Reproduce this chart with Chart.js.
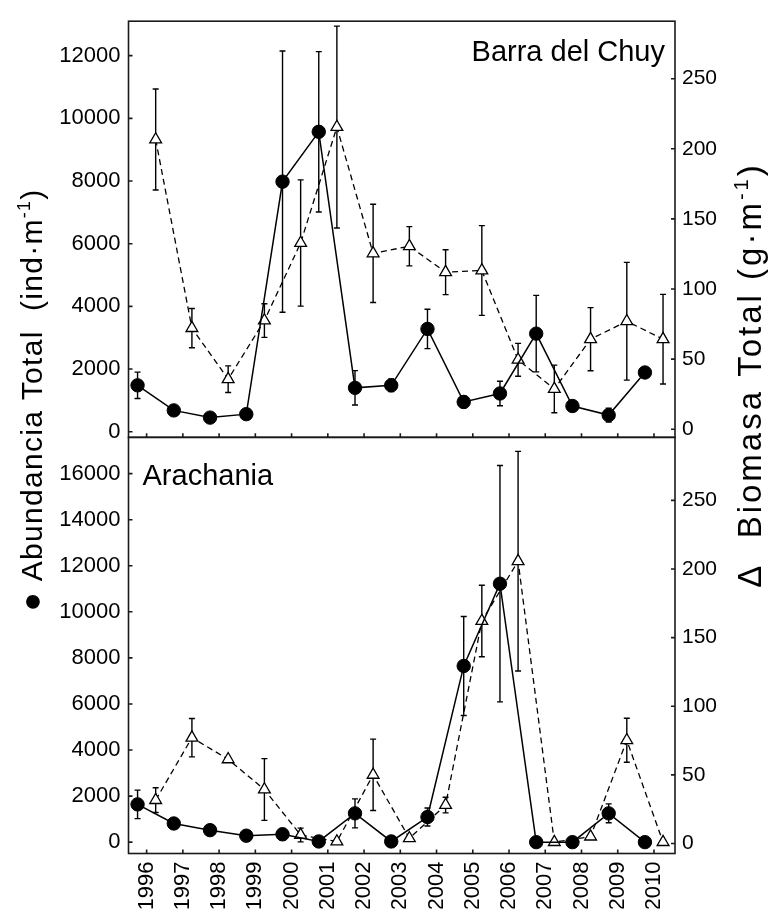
<!DOCTYPE html>
<html><head><meta charset="utf-8">
<script src="https://cdn.jsdelivr.net/npm/chart.js@4/dist/chart.umd.min.js"></script>
<style>html,body{margin:0;padding:0;background:#fff;}canvas{display:block;}</style>
</head><body>
<canvas id="c" width="769" height="915"></canvas>
<script>
// ---- data ----
const years = [1996,1997,1998,1999,2000,2001,2002,2003,2004,2005,2006,2007,2008,2009,2010];
const panelNames = ['Barra del Chuy', 'Arachania'];

// Barra del Chuy
const chuyAbund   = [1480, 680, 450, 560, 7980, 9570, 1400, 1480, 3280, 950, 1220, 3130, 820, 530, 1890];
const chuyAbundSD = [420, 0, 0, 0, 4170, 2560, 550, 200, 630, 190, 390, 1220, 0, 220, 0];
const chuyBiom    = [206.6, 72.1, 35.7, 77.5, 132.8, 215.5, 125.4, 130.5, 112, 113.2, 49.5, 28.7, 64.2, 77, 64.2];
const chuyBiomSD  = [36, 14, 9.5, 12, 45, 72, 35, 14, 16, 32, 11.7, 17, 22.5, 42, 32];

// Arachania
const araAbund   = [1640, 810, 520, 280, 340, 30, 1250, 30, 1090, 7650, 11220, 0, 0, 1250, 0];
const araAbundSD = [620, 0, 0, 0, 250, 0, 630, 0, 390, 2150, 5130, 0, 0, 410, 0];
const araBiom    = [31.6, 77.1, 61.3, 39.3, 6.2, 1.4, 50, 3.8, 28, 162.1, 205.7, 1, 5, 75.2, 1];
const araBiomSD  = [9, 14, 0, 22.5, 5, 0, 26, 0, 5.7, 26, 80, 0, 0, 16, 0];

// tick labels
const topAbTicks  = [0, 2000, 4000, 6000, 8000, 10000, 12000];
const topBioTicks = [0, 50, 100, 150, 200, 250];
const botAbTicks  = [0, 2000, 4000, 6000, 8000, 10000, 12000, 14000, 16000];
const botBioTicks = [0, 50, 100, 150, 200, 250];

const leftTitle  = [{t:'●', s:32}, {t:' Abundancia Total  (ind·m', s:30}, {t:'-1', s:18, rise:12}, {t:')', s:30}];
const rightTitle = [{t:'Δ', s:33}, {t:'  Biomasa Total (g·m', s:33}, {t:'-1', s:20, rise:13}, {t:')', s:33}];

// ---- chart ----
const FONT = '"Liberation Sans", Arial, Helvetica, sans-serif';
const abOff = -0.25, bioOff = 0.25;
const pts = (vals, off) => years.map((y, i) => ({x: y + off, y: vals[i]}));

function abDS(vals, sd, axis) {
  return {data: pts(vals, abOff), sd: sd, yAxisID: axis, borderColor: '#000', borderWidth: 1.5,
    pointStyle: 'circle', pointRadius: 6.7, pointBackgroundColor: '#000', pointBorderColor: '#000',
    pointBorderWidth: 1, tension: 0, order: 1};
}
function bioDS(vals, sd, axis) {
  return {data: pts(vals, bioOff), sd: sd, yAxisID: axis, borderColor: '#000', borderWidth: 1.3,
    borderDash: [6, 4], pointStyle: 'triangle', pointRadius: 6.8, pointBackgroundColor: '#fff',
    pointBorderColor: '#000', pointBorderWidth: 1.3, tension: 0, order: 2};
}

const errorBars = {
  id: 'errorBars',
  beforeDatasetsDraw(chart) {
    const ctx = chart.ctx, xs = chart.scales.x;
    ctx.save();
    ctx.strokeStyle = '#000'; ctx.lineWidth = 1.4; ctx.setLineDash([]);
    chart.data.datasets.forEach(ds => {
      const ys = chart.scales[ds.yAxisID];
      ds.data.forEach((p, i) => {
        const e = ds.sd[i];
        if (!e) return;
        const px = xs.getPixelForValue(p.x);
        const y1 = ys.getPixelForValue(p.y + e), y2 = ys.getPixelForValue(p.y - e);
        ctx.beginPath();
        ctx.moveTo(px, y1); ctx.lineTo(px, y2);
        ctx.moveTo(px - 3, y1); ctx.lineTo(px + 3, y1);
        ctx.moveTo(px - 3, y2); ctx.lineTo(px + 3, y2);
        ctx.stroke();
      });
    });
    ctx.restore();
  }
};

function drawTitle(ctx, pieces, cx, cy, spacing) {
  ctx.save();
  try { ctx.letterSpacing = spacing + 'px'; } catch (e) {}
  let w = 0;
  pieces.forEach(p => { ctx.font = p.s + 'px ' + FONT; p.w = ctx.measureText(p.t).width; w += p.w; });
  ctx.translate(cx, cy);
  ctx.rotate(-Math.PI / 2);
  ctx.textAlign = 'left'; ctx.textBaseline = 'alphabetic'; ctx.fillStyle = '#000';
  let x = -w / 2;
  pieces.forEach(p => { ctx.font = p.s + 'px ' + FONT; ctx.fillText(p.t, x, -(p.rise || 0)); x += p.w; });
  ctx.restore();
}

const frame = {
  id: 'frame',
  afterDraw(chart) {
    const ctx = chart.ctx, xs = chart.scales.x, ca = chart.chartArea;
    const panels = [['yTopL', 'yTopR'], ['yBotL', 'yBotR']];
    ctx.save();
    ctx.strokeStyle = '#1a1a1a'; ctx.lineWidth = 1.6; ctx.setLineDash([]);
    panels.forEach(([l, r]) => {
      const sl = chart.scales[l], sr = chart.scales[r];
      ctx.strokeRect(ca.left, sl.top, ca.right - ca.left, sl.bottom - sl.top);
      ctx.beginPath();
      sl.ticks.forEach(t => { const y = sl.getPixelForValue(t.value); ctx.moveTo(ca.left, y); ctx.lineTo(ca.left + 4, y); });
      sr.ticks.forEach(t => { const y = sr.getPixelForValue(t.value); ctx.moveTo(ca.right, y); ctx.lineTo(ca.right - 4, y); });
      xs.ticks.forEach(t => { const x = xs.getPixelForValue(t.value); ctx.moveTo(x, sl.bottom); ctx.lineTo(x, sl.bottom - 4); });
      ctx.stroke();
    });
    ctx.fillStyle = '#000';
    ctx.font = '29px ' + FONT;
    ctx.textBaseline = 'alphabetic';
    ctx.textAlign = 'right';
    ctx.fillText(panelNames[0], ca.right - 10, chart.scales.yTopL.top + 39.5);
    ctx.textAlign = 'left';
    ctx.fillText(panelNames[1], ca.left + 14, chart.scales.yBotL.top + 48);
    ctx.restore();
    drawTitle(ctx, leftTitle, 42, 400, 1.3);
    drawTitle(ctx, rightTitle, 761, 375, 3);
  }
};

function yAxis(pos, order, min, max, ticksArr, size) {
  return {
    type: 'linear', position: pos, stack: pos, weight: order, min: min, max: max,
    grid: {display: false, drawTicks: false}, border: {display: false},
    ticks: {autoSkip: false, color: '#000', padding: pos === 'left' ? 8 : 7,
      font: {size: size, family: FONT}, callback: v => String(v)},
    afterBuildTicks: s => { s.ticks = ticksArr.map(v => ({value: v})); },
    afterFit: s => { s.width = pos === 'left' ? 70 : 60; }
  };
}

new Chart(document.getElementById('c'), {
  type: 'line',
  data: {
    datasets: [
      abDS(chuyAbund, chuyAbundSD, 'yTopL'),
      bioDS(chuyBiom, chuyBiomSD, 'yTopR'),
      abDS(araAbund, araAbundSD, 'yBotL'),
      bioDS(araBiom, araBiomSD, 'yBotR')
    ]
  },
  options: {
    responsive: false, animation: false, devicePixelRatio: 1,
    layout: {padding: {left: 58.5, right: 34, top: 10, bottom: 6.5}},
    plugins: {legend: {display: false}, tooltip: {enabled: false}},
    scales: {
      x: {
        type: 'linear', position: 'bottom', min: 1995.5, max: 2010.58,
        grid: {display: false, drawTicks: false}, border: {display: false},
        ticks: {autoSkip: false, minRotation: 90, maxRotation: 90, color: '#000', padding: 8,
          font: {size: 22, family: FONT}, callback: v => String(v)},
        afterBuildTicks: s => { s.ticks = years.map(v => ({value: v})); },
        afterFit: s => { s.height = 55; }
      },
      yTopL: yAxis('left', 2, -180, 13100, topAbTicks, 22),
      yBotL: yAxis('left', 1, -493, 17575, botAbTicks, 22),
      yTopR: yAxis('right', 1, -5.8, 291, topBioTicks, 21),
      yBotR: yAxis('right', 2, -7.3, 295.9, botBioTicks, 21)
    }
  },
  plugins: [errorBars, frame]
});
</script>
</body></html>
